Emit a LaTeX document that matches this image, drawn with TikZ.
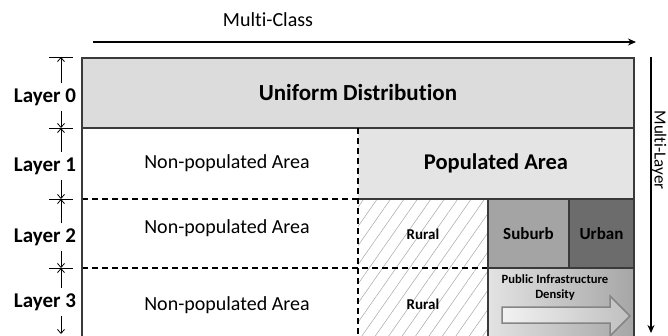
\documentclass[tikz,border=0pt]{standalone}
\usepackage{fontspec}
\setmainfont{Carlito}[Ligatures=NoCommon]
\usetikzlibrary{arrows.meta,patterns.meta}

\definecolor{framegray}{HTML}{3A3A3A}
\definecolor{uniformgray}{HTML}{DCDCDC}
\definecolor{popgray}{HTML}{E4E4E4}
\definecolor{suburbgray}{HTML}{A4A4A4}
\definecolor{urbangray}{HTML}{6C6C6C}

\tikzset{
  cell/.style={inner sep=0pt, outer sep=0pt, anchor=north west},
  frame/.style={framegray, line width=2pt},
  divider/.style={framegray, line width=1.3pt},
  split/.style={black, line width=1.3pt, dash pattern=on 6pt off 4pt},
  layerlabel/.style={inner sep=5pt, font=\fontsize{21}{24}\selectfont\bfseries},
  arealabel/.style={font=\fontsize{20}{24}\selectfont},
  rurallabel/.style={font=\fontsize{15}{18}\selectfont\bfseries},
  tickbar/.style={line width=0.8pt},
  dimarrow/.style={-{Straight Barb[length=4pt,width=7pt]}, line width=0.8pt},
  axisarrow/.style={-{Stealth[length=8pt,width=7pt]}, line width=1.4pt},
}

\begin{document}
\begin{tikzpicture}[x=1pt,y=-1pt]
\clip (0,0) rectangle (668,335);
%\draw[step=10,gray,very thin] (0,0) grid (668,335);

% cells
\node[cell, fill=uniformgray, minimum width=552pt, minimum height=70pt,
      font=\fontsize{23}{26}\selectfont\bfseries] (uniform) at (82,58) {Uniform Distribution};
\node[cell, fill=popgray, minimum width=276pt, minimum height=71pt,
      font=\fontsize{22.5}{26}\selectfont\bfseries] (populated) at (358,128) {Populated Area};
\node[cell, minimum width=130pt, minimum height=150pt,
      pattern={Lines[angle=55,distance=11pt,line width=0.5pt]}, pattern color=black!35] (rural) at (358,199) {};
\node[cell, fill=suburbgray, minimum width=81pt, minimum height=69pt,
      font=\fontsize{17}{20}\selectfont\bfseries] (suburb) at (488,199) {Suburb};
\node[cell, fill=urbangray, minimum width=65pt, minimum height=69pt,
      font=\fontsize{17}{20}\selectfont\bfseries] (urban) at (569,199) {Urban};
\node[cell, left color=black!11, right color=black!35, minimum width=146pt, minimum height=80pt] (pid) at (488,268) {};

% density arrow
\draw[draw=black!48, line width=1.5pt, left color=black!5, right color=black!25]
  (502,307) -- (610,307) -- (610,296) -- (630,316) -- (610,336) -- (610,323) -- (502,323) -- cycle;
\node[align=center, font=\fontsize{12.6}{15}\selectfont\bfseries] (pidtext) at (555,287.5) {Public Infrastructure\\Density};

\node[arealabel] (np1) at (227,163) {Non-populated Area};
\node[arealabel] (np2) at (227,228) {Non-populated Area};
\node[arealabel] (np3) at (227,305) {Non-populated Area};
\node[rurallabel] (rural2) at (423,234) {Rural};
\node[rurallabel] (rural3) at (423,304) {Rural};

% borders
\draw[divider] (uniform.south west) -- (uniform.south east);
\draw[split] (uniform.west |- populated.south) -- (populated.south west);
\draw[divider] (populated.south west) -- (populated.south east);
\draw[split] (populated.north west) -- (rural.south west);
\draw[split] (uniform.west |- suburb.south) -- (suburb.south west);
\draw[divider] (suburb.south west) -- (urban.south east);
\draw[divider] (suburb.north west) -- (pid.south west);
\draw[divider] (urban.north west) -- (urban.south west);
\draw[frame] (uniform.north west) rectangle (pid.south east);

% layers
\coordinate (t0) at (61,57);
\coordinate (t1) at (61,128);
\coordinate (t2) at (61,199);
\coordinate (t3) at (61,268);
\coordinate (t4) at (61,334);
\foreach \t in {t0,t1,t2,t3}
  \draw[tickbar] ([xshift=-12pt]\t) -- ([xshift=12pt]\t);

\node[layerlabel] (L0) at (45,97) {Layer 0};
\node[layerlabel] (L1) at (45,166) {Layer 1};
\node[layerlabel] (L2) at (45,237) {Layer 2};
\node[layerlabel] (L3) at (45,302) {Layer 3};

\draw[dimarrow] (t0 |- L0.north) -- (t0);
\draw[dimarrow] (t0 |- L0.south) -- (t1);
\draw[dimarrow] (t1 |- L1.north) -- (t1);
\draw[dimarrow] (t1 |- L1.south) -- (t2);
\draw[dimarrow] (t2 |- L2.north) -- (t2);
\draw[dimarrow] (t2 |- L2.south) -- (t3);
\draw[dimarrow] (t3 |- L3.north) -- (t3);
\draw[dimarrow] (t3 |- L3.south) -- (t4);

% axes
\coordinate (mcstart) at (93,42);
\coordinate (mcend) at (636,42);
\node[arealabel] (mclabel) at (268,20) {Multi-Class};
\draw[axisarrow] (mcstart) -- (mcend);

\coordinate (mlstart) at (651,57);
\coordinate (mlend) at (651,333);
\node[rotate=-90, anchor=base, inner sep=0pt, font=\fontsize{17}{20}\selectfont] (mllabel) at (654.5,150) {Multi-Layer};
\draw[axisarrow] (mlstart) -- (mlend);

\end{tikzpicture}
\end{document}
